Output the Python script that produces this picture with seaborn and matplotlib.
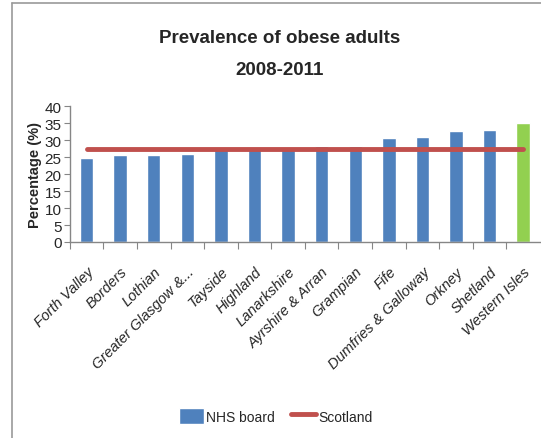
import matplotlib
matplotlib.use('Agg')
import matplotlib.pyplot as plt
import seaborn as sns
import pandas as pd
from matplotlib.lines import Line2D
from matplotlib.patches import Patch

# Datos
juntas = ['Forth Valley', 'Borders', 'Lothian', 'Greater Glasgow &...', 'Tayside',
          'Highland', 'Lanarkshire', 'Ayrshire & Arran', 'Grampian', 'Fife',
          'Dumfries & Galloway', 'Orkney', 'Shetland', 'Western Isles']
prevalencia = [24.8, 25.6, 25.6, 26.0, 27.3, 27.3, 28.0, 28.4, 28.4, 30.5,
               31.0, 32.6, 33.0, 35.1]
escocia = [27.5] * len(juntas)
y_ticks = [0, 5, 10, 15, 20, 25, 30, 35, 40]

AZUL = '#4F81BD'
ROJO = '#C0504D'
VERDE = '#92D050'

sns.set_style('white')
plt.rcParams['font.family'] = ['Liberation Sans', 'DejaVu Sans']

df = pd.DataFrame({'junta': juntas, 'valor': prevalencia, 'escocia': escocia})
colores = [AZUL] * (len(juntas) - 1) + [VERDE]

fig = plt.figure(figsize=(5.41, 4.39), dpi=100)
ax = fig.add_axes([0.129, 0.4465, 0.869, 0.3095])

sns.barplot(data=df, x='junta', y='valor', hue='junta', palette=colores,
            legend=False, width=0.4, saturation=1, ax=ax)
ax.plot(range(len(juntas)), df['escocia'], color=ROJO, linewidth=3.5,
        solid_capstyle='round')

ax.set_ylim(0, 40)
ax.set_xlim(-0.5, len(juntas) - 0.5)
ax.set_yticks(y_ticks)
ax.tick_params(axis='y', labelsize=11, length=4, width=0.8, color='#868686',
               left=True, pad=2)
# marcas entre barras, etiquetas centradas bajo cada barra
ax.set_xticks([i - 0.5 for i in range(len(juntas))], minor=False)
ax.set_xticklabels([])
ax.set_xticks(range(len(juntas)), minor=True)
ax.set_xticklabels(juntas, minor=True, rotation=45, ha='right',
                   rotation_mode='anchor', fontsize=10.5, style='italic')
ax.tick_params(axis='x', which='major', length=5, width=0.8, color='#868686',
               bottom=True)
ax.tick_params(axis='x', which='minor', length=0, pad=16)

for lado in ['top', 'right']:
    ax.spines[lado].set_visible(False)
for lado in ['left', 'bottom']:
    ax.spines[lado].set_color('#868686')
    ax.spines[lado].set_linewidth(1)

ax.set_xlabel('')
ax.set_ylabel('Percentage (%)', fontsize=10.5, fontweight='bold', labelpad=2)

fig.text(0.517, 0.913, 'Prevalence of obese adults', ha='center', va='center',
         fontsize=13.5, fontweight='bold')
fig.text(0.517, 0.84, '2008-2011', ha='center', va='center',
         fontsize=13.5, fontweight='bold')

# Borde del area del grafico
fig.add_artist(Line2D([0.022, 0.022], [0, 0.991], color='#9a9a9a', linewidth=1.2))
fig.add_artist(Line2D([0.022, 1], [0.991, 0.991], color='#9a9a9a', linewidth=1.2))

manejadores = [Patch(facecolor=AZUL, label='NHS board'),
               Line2D([0], [0], color=ROJO, linewidth=3.5, label='Scotland')]
fig.legend(handles=manejadores, loc='center', bbox_to_anchor=(0.51, 0.05),
           ncol=2, frameon=False, fontsize=10, handlelength=1.8,
           handleheight=1.4, handletextpad=0.15, columnspacing=1.2)

plt.savefig('out.png', dpi=100)
plt.close()
